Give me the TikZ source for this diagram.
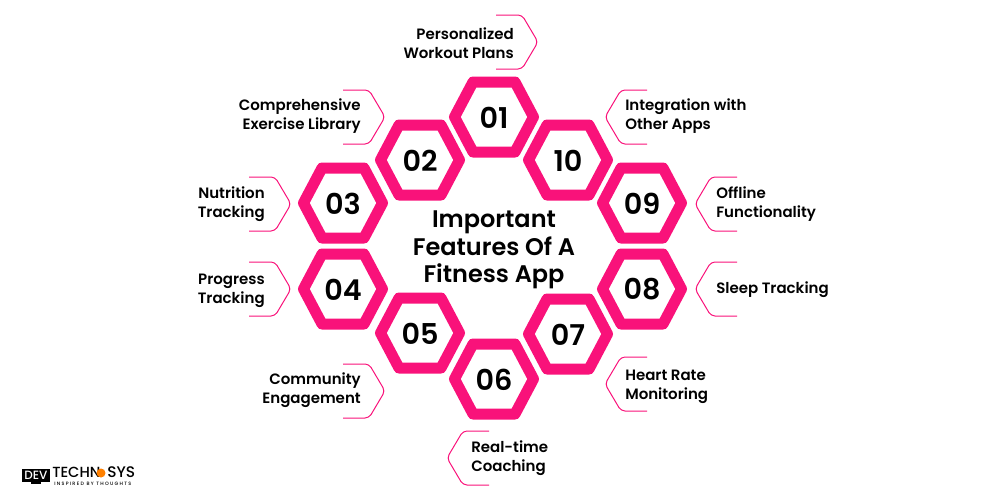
\documentclass[tikz,border=0pt]{standalone}
\usepackage{fontspec}
\setmainfont{Poppins}[UprightFont=* Medium,BoldFont=* SemiBold]
\definecolor{hot}{HTML}{F9127A}
\tikzset{
  x=0.75pt,y=-0.75pt,
  hexring/.style={draw=hot,line width=8.25pt,line join=round},
  num/.style={font=\fontsize{21.5}{24}\selectfont\bfseries,text=black,inner sep=0pt},
  callout/.style={draw=hot,line width=0.75pt,rounded corners=3pt},
  lblL/.style={font=\fontsize{11.25}{14.2}\selectfont\bfseries,align=right,anchor=east,inner sep=0pt,text=black},
  lblR/.style={font=\fontsize{11.25}{14.2}\selectfont\bfseries,align=left,anchor=west,inner sep=0pt,text=black},
  title/.style={font=\fontsize{18}{20.7}\selectfont\bfseries,align=center,inner sep=0pt,text=black}
}
\begin{document}
\begin{tikzpicture}
\useasboundingbox (0,0) rectangle (1000,500);
% hexagons
\foreach \n/\cx/\cy in {01/494/117,02/420/160,03/343/203,04/343/289,05/420/333,06/494/379,07/568/334,08/642/289,09/642/203,10/568/160}{
  \draw[hexring] (\cx-39.5,\cy) -- (\cx-21,\cy-35) -- (\cx+21,\cy-35) -- (\cx+39.5,\cy) -- (\cx+21,\cy+35) -- (\cx-21,\cy+35) -- cycle;
  \node[num] (h\n) at (\cx,\cy+0.5) {\n};
}
% callouts pointing right
\foreach \x/\cy in {496/42,343/117,249/204,249/289,343/391}{
  \draw[callout] (\x,\cy-27) -- (\x+26,\cy-27) -- (\x+42,\cy) -- (\x+26,\cy+27) -- (\x,\cy+27);
}
% callouts pointing left
\foreach \x/\cy in {647/117,737/204,737/289,647/384,489/458}{
  \draw[callout] (\x,\cy-27) -- (\x-26,\cy-27) -- (\x-42,\cy) -- (\x-26,\cy+27) -- (\x,\cy+27);
}
% labels
\node[lblL] (l01) at (514,43.5) {Personalized\\Workout Plans};
\node[lblL] (l02) at (361,116.5) {Comprehensive\\Exercise Library};
\node[lblL] (l03) at (265,204.5) {Nutrition\\Tracking};
\node[lblL] (l04) at (265,290.5) {Progress\\Tracking};
\node[lblL] (l05) at (361,390.5) {Community\\Engagement};
\node[lblR] (l06) at (471,458.5) {Real-time\\Coaching};
\node[lblR] (l07) at (625,386.5) {Heart Rate\\Monitoring};
\node[lblR] (l08) at (716,289.5) {Sleep Tracking};
\node[lblR] (l09) at (716,204.5) {Offline\\Functionality};
\node[lblR] (l10) at (625,116.5) {Integration with\\Other Apps};
\node[title] (t) at (494,250) {Important\\Features Of A\\Fitness App};
% logo
\fill[black] (22,469) rectangle (50,482);
\fill[black] (31,482) rectangle (41,484);
\node[inner sep=0pt,text=white,font=\fontsize{9}{9}\selectfont] (ldev) at (36,475.5) {DEV};
\node[inner sep=0pt,anchor=west,font=\fontsize{11}{11}\selectfont] (ltech) at (52,472) {TECHN};
\fill[orange] (101,473) circle (4.5);
\node[inner sep=0pt,anchor=west,font=\fontsize{11.5}{11.5}\selectfont] (lsys) at (107,472) {SYS};
\node[inner sep=0pt,anchor=west,font=\fontsize{3.6}{4}\selectfont\addfontfeature{LetterSpace=27}] (ltag) at (54,484) {INSPIRED BY THOUGHTS};
\end{tikzpicture}
\end{document}
